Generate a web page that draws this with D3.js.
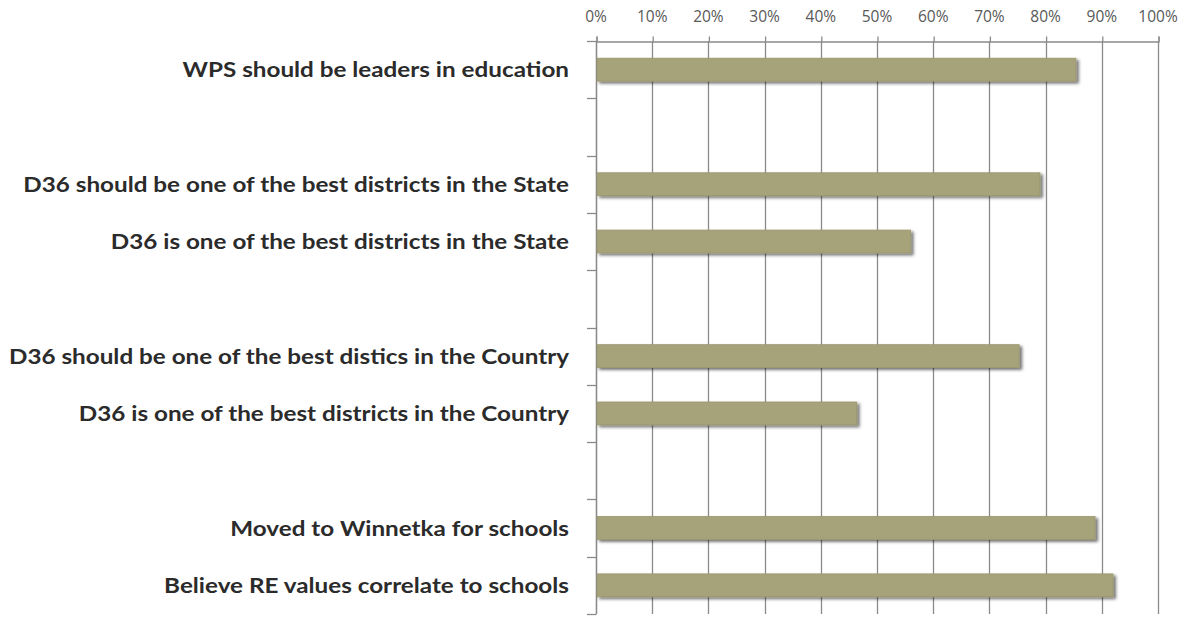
<!DOCTYPE html>
<html>
<head>
<meta charset="utf-8">
<script src="https://cdn.jsdelivr.net/npm/d3@7"></script>
<style>
  html, body { margin: 0; padding: 0; background: #fff; }
  svg { display: block; }
</style>
</head>
<body>
<svg id="chart" width="1189" height="617"></svg>
<script>
const categories = [
  "WPS should be leaders in education",
  "",
  "D36 should be one of the best districts in the State",
  "D36 is one of the best districts in the State",
  "",
  "D36 should be one of the best distics in the Country",
  "D36 is one of the best districts in the Country",
  "",
  "Moved to Winnetka for schools",
  "Believe RE values correlate to schools"
];
const values = [0.854, null, 0.79, 0.56, null, 0.753, 0.464, null, 0.888, 0.92];
const tickValues = [0, 0.1, 0.2, 0.3, 0.4, 0.5, 0.6, 0.7, 0.8, 0.9, 1.0];

(function () {
const svg = d3.select("#chart");
const pLeft = 596, pRight = 1158, pTop = 41, pBottom = 614;
const keys = categories.map((c, i) => i);

const x = d3.scaleLinear().domain([0, 1]).range([pLeft, pRight]);
const y = d3.scaleBand().domain(keys).range([pTop, pBottom]).paddingInner(0.6).paddingOuter(0.3);
const yb = d3.scaleBand().domain(keys).range([pTop, pBottom]);

const defs = svg.append("defs");
const f = defs.append("filter").attr("id", "shadow").attr("x", "-5%").attr("y", "-30%").attr("width", "115%").attr("height", "180%");
f.append("feDropShadow").attr("dx", 2.5).attr("dy", 2).attr("stdDeviation", 1.6).attr("flood-color", "#000").attr("flood-opacity", 0.55);

const gridColor = "#8a8a8a";

// gridlines
svg.append("g").selectAll("line").data(tickValues).join("line")
  .attr("x1", d => Math.round(x(d)) + 0.5).attr("x2", d => Math.round(x(d)) + 0.5)
  .attr("y1", pTop).attr("y2", pBottom)
  .attr("stroke", gridColor).attr("stroke-width", 1.3);

// top axis
const xAxis = d3.axisTop(x).tickValues(tickValues).tickFormat(d3.format(".0%")).tickSize(5).tickSizeOuter(5);
const gx = svg.append("g").attr("transform", `translate(0.5,${pTop + 0.5})`).call(xAxis);
gx.select(".domain").attr("stroke", gridColor).attr("stroke-width", 1.3);
gx.selectAll(".tick line").attr("stroke", gridColor).attr("stroke-width", 1.3);
gx.selectAll(".tick text")
  .attr("y", -19.5).attr("dy", 0).attr("dx", -1)
  .attr("fill", "#595959")
  .style("font-family", "'Open Sans', 'DejaVu Sans', sans-serif")
  .style("font-size", "15.5px");

// left category axis ticks at band boundaries
const bounds = keys.map(k => yb(k)).concat([pBottom]);
svg.append("g").selectAll("line").data(bounds).join("line")
  .attr("x1", pLeft - 9).attr("x2", pLeft + 0.5)
  .attr("y1", d => Math.round(d) + 0.5).attr("y2", d => Math.round(d) + 0.5)
  .attr("stroke", gridColor).attr("stroke-width", 1.3);
svg.append("line")
  .attr("x1", pLeft + 0.5).attr("x2", pLeft + 0.5).attr("y1", pTop).attr("y2", pBottom)
  .attr("stroke", gridColor).attr("stroke-width", 1.3);

// bars
svg.append("g").selectAll("rect").data(keys.filter(k => values[k] != null)).join("rect")
  .attr("x", x(0) + 1)
  .attr("y", k => y(k))
  .attr("width", k => x(values[k]) - x(0) - 1)
  .attr("height", y.bandwidth())
  .attr("fill", "#a6a27a")
  .attr("stroke", "#9a966e")
  .attr("stroke-width", 0.8)
  .attr("filter", "url(#shadow)");

// category labels
const labels = svg.append("g").selectAll("text").data(keys.filter(k => categories[k])).join("text")
  .attr("x", 569)
  .attr("y", k => yb(k) + yb.bandwidth() / 2 + 7.5)
  .attr("text-anchor", "end")
  .attr("fill", "#2b2b2b")
  .style("font-family", "Lato, 'Open Sans', sans-serif")
  .style("font-weight", "bold")
  .style("font-size", "21px")
  .text(k => categories[k]);

// fit widths to reference proportions (longest label spans ~560px)
let maxW = 0;
labels.each(function () { maxW = Math.max(maxW, this.getComputedTextLength()); });
const factor = 560 / maxW;
labels.each(function () {
  const w = this.getComputedTextLength();
  d3.select(this).attr("textLength", w * factor).attr("lengthAdjust", "spacingAndGlyphs");
});
})();
</script>
</body>
</html>
